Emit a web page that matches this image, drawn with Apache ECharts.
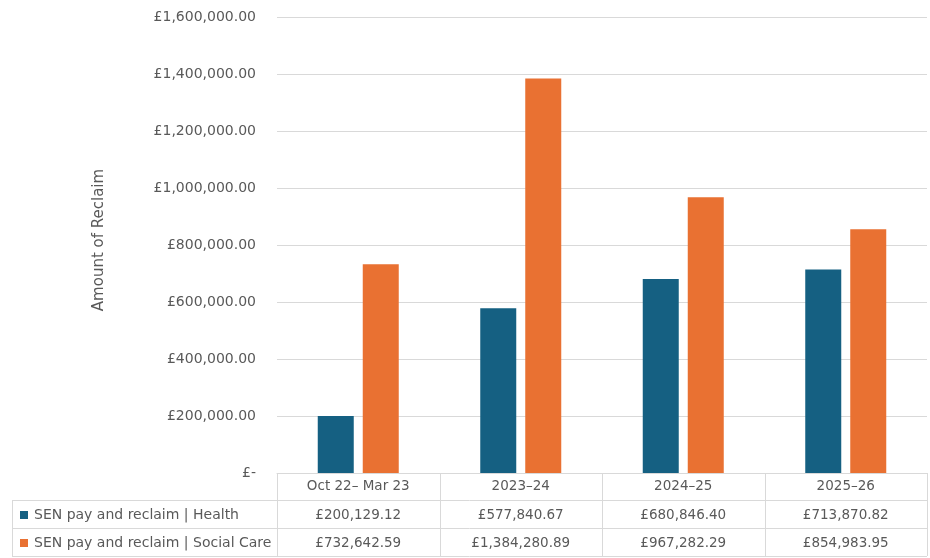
<!DOCTYPE html>
<html>
<head>
<meta charset="utf-8">
<script src="https://cdn.jsdelivr.net/npm/echarts@6/dist/echarts.min.js"></script>
<style>html,body{margin:0;padding:0;background:#fff}#c{width:930px;height:558px}</style>
</head>
<body>
<div id="c"></div>
<script>
const categories = ['Oct 22\u2013 Mar 23', '2023\u201324', '2024\u201325', '2025\u201326'];
const seriesNames = ['SEN pay and reclaim | Health', 'SEN pay and reclaim | Social Care'];
const health = [200129.12, 577840.67, 680846.40, 713870.82];
const socialCare = [732642.59, 1384280.89, 967282.29, 854983.95];
const colors = ['#156082', '#E97132'];

function money(v) {
  if (v === 0) return '\u00a3-';
  const parts = v.toFixed(2).split('.');
  parts[0] = parts[0].replace(/\B(?=(\d{3})+(?!\d))/g, ',');
  return '\u00a3' + parts.join('.');
}

const FONT = 'DejaVu Sans';
const TXT = '#595959';
const LINE = '#d9d9d9';
const chart = echarts.init(document.getElementById('c'), null, {renderer: 'canvas'});
const grid = {left: 277, right: 3, top: 17, bottom: 85};
chart.setOption({
  animation: false,
  textStyle: {fontFamily: FONT},
  grid: grid,
  xAxis: {
    type: 'category', data: categories,
    axisLine: {show: true, lineStyle: {color: LINE}},
    axisTick: {show: false},
    axisLabel: {color: TXT, fontSize: 13.5, fontFamily: FONT, margin: 6, interval: 0}
  },
  yAxis: {
    type: 'value', min: 0, max: 1600000, interval: 200000,
    name: 'Amount of Reclaim', nameLocation: 'middle', nameGap: 170,
    nameTextStyle: {color: TXT, fontSize: 15, fontFamily: FONT, padding: [0, 0, 0, 10]},
    axisLine: {show: false}, axisTick: {show: false},
    axisLabel: {color: TXT, fontSize: 14, fontFamily: FONT, margin: 21, formatter: money},
    splitLine: {lineStyle: {color: LINE}}
  },
  series: [
    {name: seriesNames[0], type: 'bar', data: health, barWidth: 36, barGap: '25%', itemStyle: {color: colors[0]}},
    {name: seriesNames[1], type: 'bar', data: socialCare, barWidth: 36, barGap: '25%', itemStyle: {color: colors[1]}}
  ]
});

// Data table below the chart
const W = 930, H = 558;
const x0 = grid.left, x1 = W - grid.right;
const yTop = H - grid.bottom;
const rows = [yTop, yTop + 27, yTop + 55, yTop + 83];
const leftX = 12;
const colW = (x1 - x0) / categories.length;
const g = [];
const line = (xa, ya, xb, yb) => g.push({type: 'line', silent: true, shape: {x1: xa, y1: ya, x2: xb, y2: yb}, style: {stroke: LINE, lineWidth: 1}});
line(leftX, rows[1] + 0.5, x1, rows[1] + 0.5);
line(leftX, rows[2] + 0.5, x1, rows[2] + 0.5);
line(leftX, rows[3] + 0.5, x1, rows[3] + 0.5);
for (let i = 0; i <= categories.length; i++) {
  const x = Math.round(x0 + i * colW) + 0.5;
  line(x, rows[0], x, rows[3]);
}
line(leftX + 0.5, rows[1], leftX + 0.5, rows[3]);
const dataRows = [health, socialCare];
const tFont = '13.5px "' + FONT + '"';
const nFont = '14px "' + FONT + '"';
dataRows.forEach((vals, r) => {
  const cy = (rows[r + 1] + rows[r + 2]) / 2 + 1;
  g.push({type: 'rect', silent: true, shape: {x: 20, y: cy - 4, width: 8, height: 8}, style: {fill: colors[r]}});
  g.push({type: 'text', silent: true, style: {x: 34, y: cy, text: seriesNames[r], fill: TXT, font: nFont, textVerticalAlign: 'middle', verticalAlign: 'middle'}});
  vals.forEach((v, i) => {
    const cx = chart.convertToPixel({xAxisIndex: 0}, categories[i]);
    g.push({type: 'text', silent: true, style: {x: cx, y: cy, text: money(v), fill: TXT, font: tFont, align: 'center', textAlign: 'center', verticalAlign: 'middle', textVerticalAlign: 'middle'}});
  });
});
chart.setOption({graphic: g});
</script>
</body>
</html>
